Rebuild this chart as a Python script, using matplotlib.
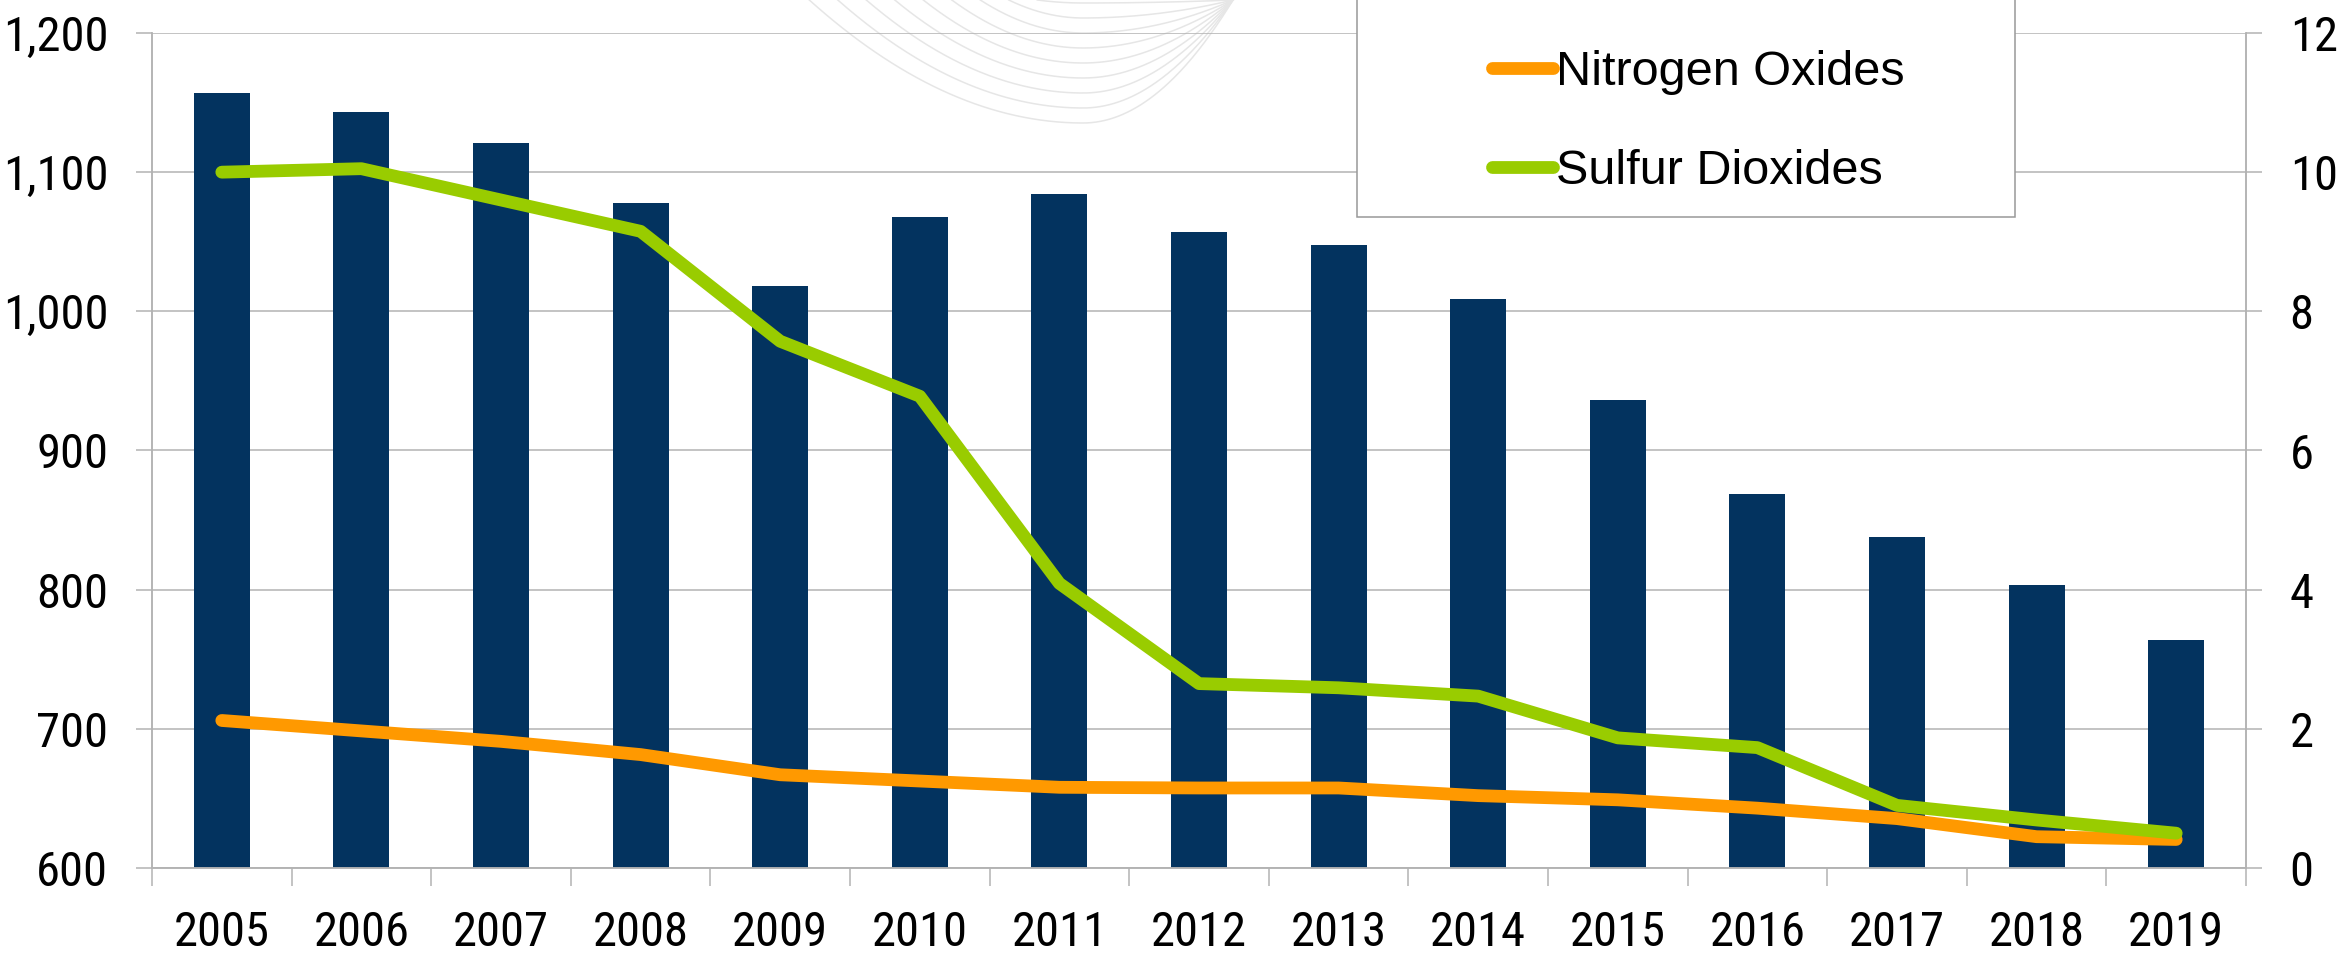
import numpy as np
import matplotlib
matplotlib.use("Agg")
import matplotlib.pyplot as plt
from matplotlib import font_manager
from matplotlib.lines import Line2D
from matplotlib.patches import Rectangle
from matplotlib.ticker import FuncFormatter

# datos
years = ["2005", "2006", "2007", "2008", "2009", "2010", "2011", "2012",
         "2013", "2014", "2015", "2016", "2017", "2018", "2019"]
bar_values = [1157, 1143, 1121, 1078, 1018, 1068, 1084, 1057,
              1048, 1009, 936, 869, 838, 803, 764]
nitrogen_oxides = [2.12, 1.97, 1.82, 1.63, 1.34, 1.25, 1.16, 1.15,
                   1.15, 1.04, 0.98, 0.86, 0.71, 0.45, 0.41]
sulfur_dioxides = [10.0, 10.05, 9.6, 9.15, 7.57, 6.78, 4.09, 2.65,
                   2.59, 2.47, 1.87, 1.73, 0.9, 0.69, 0.5]

W, H = 2346, 955
GRIS = "#b3b3b3"
AZUL = "#03335f"
NARANJA = "#ff9900"
VERDE = "#99cc00"

# fuente estrecha para los ejes, si existe
disponibles = {f.name for f in font_manager.fontManager.ttflist}
estrecha = None
for nombre in ["Liberation Sans Narrow", "Arial Narrow", "Arimo Narrow",
               "Roboto Condensed", "Archivo Narrow"]:
    if nombre in disponibles:
        estrecha = nombre
        break
if estrecha:
    FUENTE_EJES = [estrecha, "Liberation Sans", "DejaVu Sans"]
    TAM_EJES = 35
else:
    FUENTE_EJES = ["Liberation Sans", "DejaVu Sans"]
    TAM_EJES = 29
FUENTE_LEYENDA = ["Liberation Sans", "DejaVu Sans"]

fig = plt.figure(figsize=(W / 100, H / 100), dpi=100)

# arcos decorativos del fondo (marca de agua)
xc = 1083
for d in np.arange(3, 125, 15):
    t = np.linspace(-1, 1, 200)
    wl = 40 + 1.9 * d
    wr = 150
    xs = np.where(t < 0, xc + t * wl, xc + t * wr)
    ys = d * (1 - t ** 2)
    fig.add_artist(Line2D(xs / W, 1 - ys / H, transform=fig.transFigure,
                          color="#e6e6e6", lw=1.1, zorder=-1))

ax = fig.add_axes([152 / W, 87 / H, 2094 / W, 835 / H])
ax.patch.set_facecolor("none")
x = np.arange(len(years))

ax.bar(x, bar_values, width=0.4, color=AZUL, zorder=2)
ax.set_xlim(-0.5, len(years) - 0.5)
ax.set_ylim(600, 1200)
ax.set_yticks(np.arange(600, 1201, 100))
ax.yaxis.set_major_formatter(FuncFormatter(lambda v, p: f"{int(v):,}"))
ax.set_axisbelow(True)
ax.yaxis.grid(True, color=GRIS, lw=1.1)

ax.set_xticks(x)
ax.set_xticklabels(years)
ax.set_xticks(np.arange(-0.5, len(years), 1), minor=True)
ax.tick_params(axis="x", which="major", length=0, pad=30)
ax.tick_params(axis="x", which="minor", length=13, width=1.1, color=GRIS)
ax.tick_params(axis="y", length=11.5, width=1.1, color=GRIS, pad=20)

ax2 = ax.twinx()
ax2.set_ylim(0, 12)
ax2.set_yticks(np.arange(0, 13, 2))
ax2.tick_params(axis="y", length=11.5, width=1.1, color=GRIS, pad=20)

l1, = ax2.plot(x, nitrogen_oxides, color=NARANJA, lw=9.2,
               solid_capstyle="round", solid_joinstyle="round",
               label="Nitrogen Oxides", zorder=3)
l2, = ax2.plot(x, sulfur_dioxides, color=VERDE, lw=9.2,
               solid_capstyle="round", solid_joinstyle="round",
               label="Sulfur Dioxides", zorder=4)

for a in (ax, ax2):
    a.spines["top"].set_visible(False)
    for s in ("left", "right", "bottom"):
        a.spines[s].set_color(GRIS)
        a.spines[s].set_linewidth(1.1)
    for lab in a.get_xticklabels() + a.get_yticklabels():
        lab.set_family(FUENTE_EJES)
        lab.set_fontsize(TAM_EJES)

# caja de la leyenda (sale por arriba de la figura)
fig.add_artist(Rectangle((1357 / W, 1 - 217 / H), (2015 - 1357) / W, 240 / H,
                         transform=fig.transFigure, facecolor="white",
                         edgecolor="#999999", lw=1.1, zorder=5))
leg = fig.legend([l1, l2], ["Nitrogen Oxides", "Sulfur Dioxides"],
                 loc="center left", bbox_to_anchor=(1468 / W, 1 - 122 / H),
                 frameon=False, borderpad=0, handlelength=1.25,
                 handletextpad=0.05, labelspacing=1.1,
                 prop={"family": FUENTE_LEYENDA, "size": 35})
leg.set_zorder(6)

fig.savefig("out.png", dpi=100)
